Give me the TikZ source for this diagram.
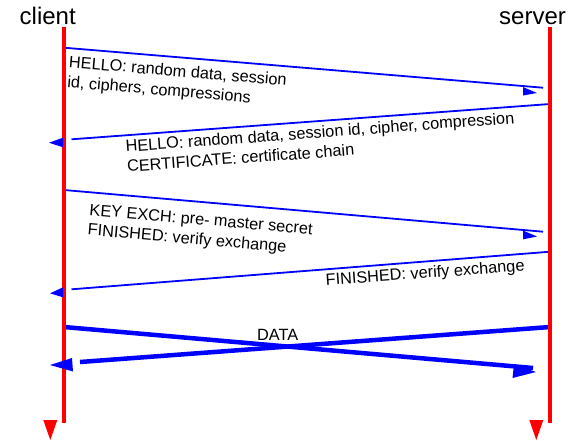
\documentclass[tikz,border=0pt]{standalone}
\usepackage{fontspec}
\setmainfont{Liberation Sans}
\begin{document}
\begin{tikzpicture}[x=1pt,y=-1pt,
  lifeline/.style={red,line width=3.5pt},
  msg/.style={blue,line width=1.8pt},
  bulk/.style={blue,line width=4.5pt},
  msgtext/.style={inner sep=0pt,anchor=north west,align=left,
    font=\fontsize{16.3}{20}\selectfont},
  party/.style={inner sep=0pt,anchor=base west,font=\fontsize{24}{28}\selectfont}]
\useasboundingbox (0,0) rectangle (570,440);

% participants
\node[party] (client) at (19.5,24.5) {client};
\node[party] (server) at (499,24.5) {server};

% lifeline end points
\coordinate (ctop) at (64,27);
\coordinate (cbot) at (64,423);
\coordinate (stop) at (550,27);
\coordinate (sbot) at (550,423);

% message end points
\coordinate (m1a) at (64,47.7);
\coordinate (m1b) at (543,87.7);
\coordinate (m2a) at (550,104);
\coordinate (m2b) at (71.5,139.3);
\coordinate (m3a) at (64,190);
\coordinate (m3b) at (543,231.7);
\coordinate (m4a) at (550,251.7);
\coordinate (m4b) at (71.5,289.3);
\coordinate (d1a) at (64,327);
\coordinate (d1b) at (533,368);
\coordinate (d2a) at (550,327);
\coordinate (d2b) at (80,362);

% handshake messages
\draw[msg] (m1a) -- (m1b);
\draw[msg] (m2a) -- (m2b);
\draw[msg] (m3a) -- (m3b);
\draw[msg] (m4a) -- (m4b);
\draw[bulk] (d1a) -- (d1b);
\draw[bulk] (d2a) -- (d2b);

% lifelines
\draw[lifeline] (ctop) -- (cbot);
\draw[lifeline] (stop) -- (sbot);

% detached arrow heads
\fill[blue] (523,87) -- (537,93) -- (523,95.5) -- cycle;
\fill[blue] (49,142.7) -- (63,137.7) -- (63,147.3) -- cycle;
\fill[blue] (523,230.5) -- (537,236.5) -- (523,239.3) -- cycle;
\fill[blue] (50,293.3) -- (63,287.3) -- (63,297.3) -- cycle;
\fill[blue] (514,364.5) -- (536,372) -- (512.5,378) -- cycle;
\fill[blue] (50,365) -- (72,358) -- (73,371.5) -- cycle;
\fill[red] (43.3,420) -- (57.3,420) -- (50.3,440) -- cycle;
\fill[red] (529.3,420) -- (543.3,420) -- (536.3,440) -- cycle;

% message texts
\node[msgtext,rotate=-4.8] (t1) at (69.5,55.5)
  {HELLO: random data, session\\id, ciphers, compressions};
\node[msgtext,rotate=4.2] (t2) at (125,140)
  {HELLO: random data, session id, cipher, compression\\CERTIFICATE: certificate chain};
\node[msgtext,rotate=-5] (t3) at (90,203.5)
  {KEY EXCH: pre- master secret\\FINISHED: verify exchange};
\node[msgtext,rotate=4.2] (t4) at (325,273.5)
  {FINISHED: verify exchange};
\node[msgtext,anchor=base west] (data) at (257,340) {DATA};
\end{tikzpicture}
\end{document}
